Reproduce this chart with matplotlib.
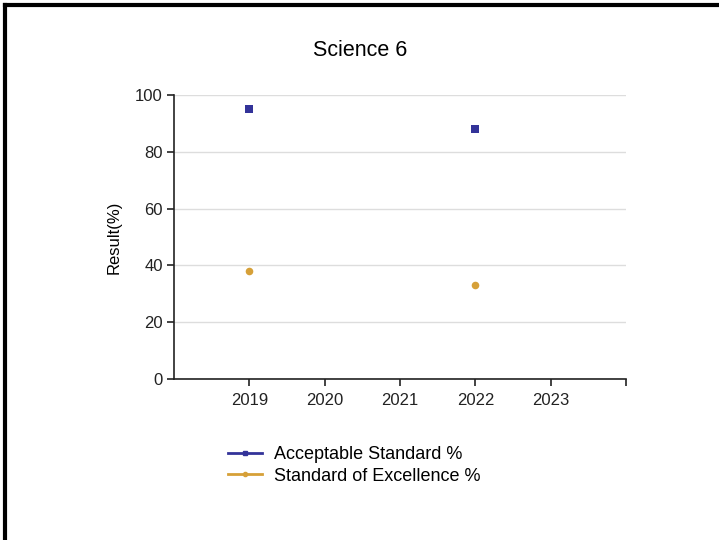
import matplotlib.pyplot as plt
from matplotlib.lines import Line2D

plt.rcParams['font.family'] = ['Liberation Sans', 'DejaVu Sans']

years = [2019, 2020, 2021, 2022, 2023]
acc_years = [2019, 2022]
acc_vals = [95, 88]
exc_years = [2019, 2022]
exc_vals = [38, 33]
yticks = [0, 20, 40, 60, 80, 100]

blue = '#333399'
gold = '#D6A038'

fig = plt.figure(figsize=(7.19, 5.40), dpi=100)
ax = fig.add_axes([174/719, 1 - 379/540, (626-174)/719, (379-95)/540])

ax.scatter(acc_years, acc_vals, marker='s', s=30, color=blue, zorder=3, linewidths=0)
ax.scatter(exc_years, exc_vals, marker='o', s=30, color=gold, zorder=3, linewidths=0)

ax.set_xlim(2018, 2024)
ax.set_ylim(0, 100)
ax.set_xticks(years + [2024])
ax.set_xticklabels([str(y) for y in years] + [''])
ax.set_yticks(yticks)
ax.grid(axis='y', color='#dddddd', linewidth=1)
ax.set_axisbelow(True)
for s in ['top', 'right']:
    ax.spines[s].set_visible(False)
for s in ['left', 'bottom']:
    ax.spines[s].set_linewidth(1.2)
    ax.spines[s].set_color('#222222')
ax.tick_params(direction='out', length=5, width=1.2, labelsize=12, colors='#222222')
ax.tick_params(axis='x', pad=5)
ax.tick_params(axis='y', pad=3)
ax.set_ylabel('Result(%)', fontsize=12, labelpad=10)

fig.text(360/719, 1 - 50/540, 'Science 6', ha='center', va='center', fontsize=15.5)

handles = [Line2D([], [], color=blue, lw=2, marker='s', markersize=3),
           Line2D([], [], color=gold, lw=2, marker='o', markersize=3)]
fig.legend(handles, ['Acceptable Standard %', 'Standard of Excellence %'],
           loc='upper left', bbox_to_anchor=(228/719, 1 - 446/540), frameon=False,
           fontsize=13, handlelength=1.9, handletextpad=0.65, labelspacing=0.25,
           borderaxespad=0, borderpad=0)

# page border (top and left only)
fig.add_artist(Line2D([5/719, 5/719], [0, 1 - 5/540], color='black', lw=3, transform=fig.transFigure))
fig.add_artist(Line2D([5/719, 1], [1 - 5/540, 1 - 5/540], color='black', lw=3, transform=fig.transFigure))

plt.savefig('out.png', dpi=100)
